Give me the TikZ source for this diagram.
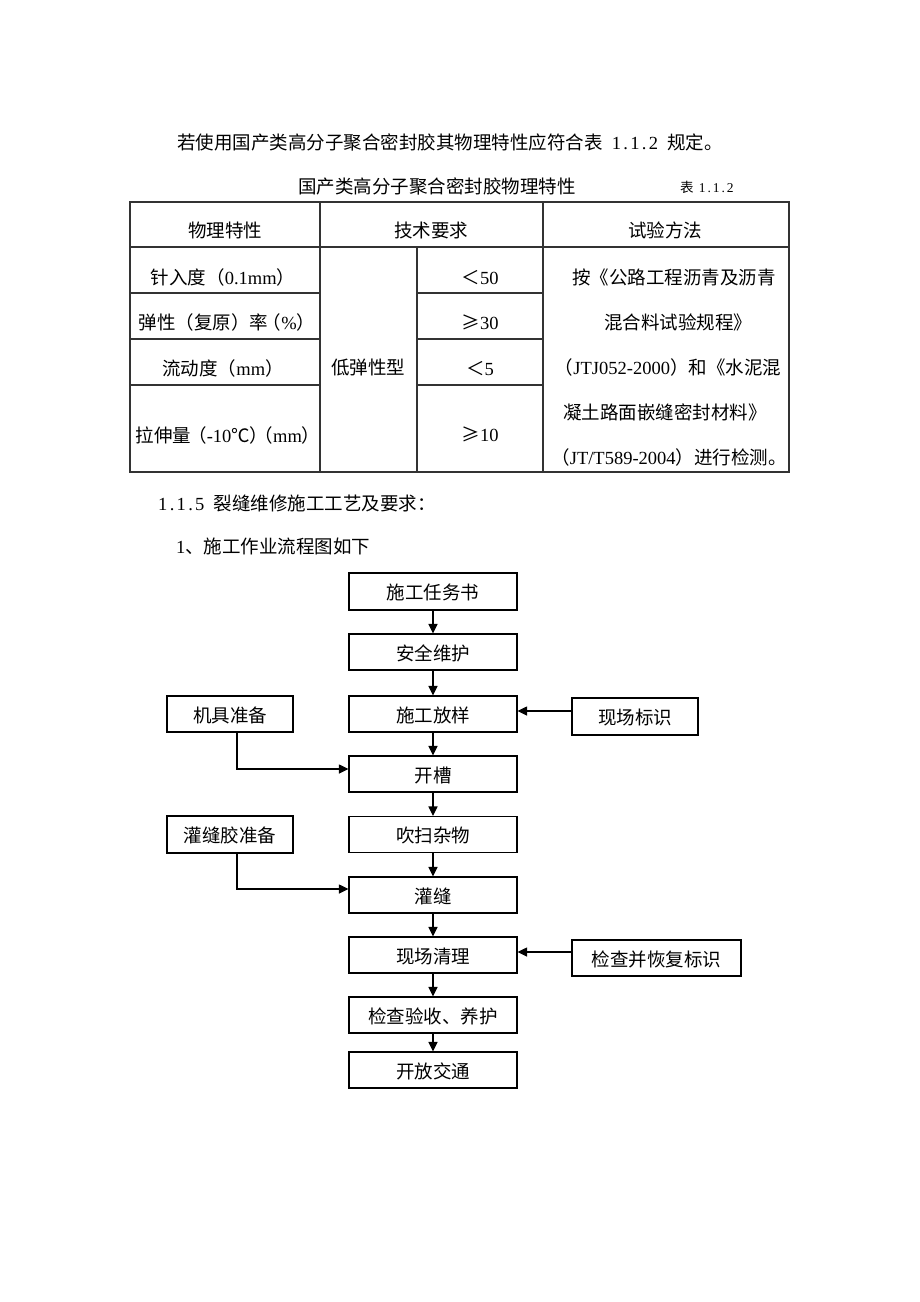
\documentclass[tikz,border=0pt]{standalone}
\usepackage{fontspec}
\newfontfamily\cj{Noto Sans CJK SC}
\newfontfamily\ser{Liberation Serif}
\newcommand{\sr}[1]{{\ser\fontsize{18.5}{20}\selectfont #1}}
\newcommand{\hc}[1]{\makebox[9.25pt]{\ser\fontsize{18.5}{20}\selectfont #1}}
\usetikzlibrary{arrows.meta}
\tikzset{
  every node/.style={font=\cj\fontsize{18.5}{20}\selectfont, inner sep=0pt, text height=16pt, text depth=2pt},
  box/.style={draw, line width=1.1pt, minimum width=168pt, minimum height=36pt, text height=17pt, text depth=1pt},
  sbox/.style={draw, line width=1.1pt, minimum width=126pt, minimum height=36pt, text height=17pt, text depth=1pt},
  arr/.style={line width=1.1pt, -{Triangle[length=9.5pt,width=9pt]}},
  tline/.style={line width=1.2pt, black!80},
}
\begin{document}
\begin{tikzpicture}[x=1pt,y=-1pt]
\fill[white] (0,0) rectangle (920,1302);
\useasboundingbox (0,0) rectangle (920,1302);

% heading text
\node[anchor=west] (p1) at (177,142) {若使用国产类高分子聚合密封胶其物理特性应符合表\hc{}\hc{1}\hc{.}\hc{1}\hc{.}\hc{2}\hc{}规定。};
\node (cap) at (437,186) {国产类高分子聚合密封胶物理特性};
\node[anchor=west, font=\cj\fontsize{13.5}{15}\selectfont, text height=12pt, text depth=1pt] (capn) at (680,187) {表\makebox[5pt]{}{\ser\fontsize{13.5}{15}\selectfont\makebox[7pt]{1}\makebox[7pt]{.}\makebox[7pt]{1}\makebox[7pt]{.}\makebox[7pt]{2}}};

% table lines
\draw[tline] (130,202) rectangle (789,472);
\draw[tline] (130,247) -- (789,247);
\draw[tline] (320,202) -- (320,472);
\draw[tline] (543,202) -- (543,472);
\draw[tline] (417,247) -- (417,472);
\foreach \yy in {293,339,385}{
  \draw[tline] (130,\yy) -- (320,\yy);
  \draw[tline] (417,\yy) -- (543,\yy);
}

% table texts
\node (h1) at (225,230) {物理特性};
\node (h2) at (431,230) {技术要求};
\node (h3) at (665,230) {试验方法};
\node (r1) at (223,277) {针入度（\sr{0.1mm}）};
\node (r2) at (227,322) {弹性（复原）率\hspace{-0.3em}（\sr{\%}）};
\node (r3) at (223,368) {流动度（\sr{mm}）};
\node (r4) at (228,435) {拉伸量\hspace{-0.15em}（\sr{-10}℃）\hspace{-0.75em}（\sr{mm}）};
\node (typ) at (368,367) {低弹性型};
\node (v1) at (480,277) {＜\sr{50}};
\node (v2) at (480,322) {≥\sr{30}};
\node (v3) at (480,368) {＜\sr{5}};
\node (v4) at (480,434) {≥\sr{10}};
\node (m1) at (674,277) {按《公路工程沥青及沥青};
\node (m2) at (678,322) {混合料试验规程》};
\node (m3) at (668,367) {（\sr{JTJ052-2000}）和《水泥混};
\node (m4) at (665,412) {凝土路面嵌缝密封材料》};
\node (m5) at (669,457) {（\sr{JT/T589-2004}）进行检测。};

% section texts
\node[anchor=west] (sec) at (158,503) {\hc{1}\hc{.}\hc{1}\hc{.}\hc{5}\hc{}裂缝维修施工工艺及要求：};
\node[anchor=west] (sub) at (176,546) {\hc{1}、施工作业流程图如下};

% flowchart main column
\node[box, minimum height=37pt] (b1) at (433,591.5) {施工任务书};
\node[box] (b2) at (433,652) {安全维护};
\node[box] (b3) at (433,714) {施工放样};
\node[box] (b4) at (433,774) {开槽};
\node[box] (b5) at (433,834.5) {吹扫杂物};
\node[box] (b6) at (433,895) {灌缝};
\node[box] (b7) at (433,955) {现场清理};
\node[box] (b8) at (433,1015) {检查验收、养护};
\node[box] (b9) at (433,1070) {开放交通};

% side boxes
\node[sbox] (s1) at (230,714) {机具准备};
\node[sbox, minimum height=37pt] (s2) at (635,716.5) {现场标识};
\node[sbox, minimum height=37pt] (s3) at (230,834.5) {灌缝胶准备};
\node[sbox, minimum width=169pt] (s4) at (656.5,958) {检查并恢复标识};

% connectors
\draw[arr] (b1) -- (b2);
\draw[arr] (b2) -- (b3);
\draw[arr] (b3) -- (b4);
\draw[arr] (b4) -- (b5);
\draw[arr] (b5) -- (b6);
\draw[arr] (b6) -- (b7);
\draw[arr] (b7) -- (b8);
\draw[arr] (b8) -- (b9);
\draw[arr] ([xshift=7pt]s1.south) |- ([yshift=5pt]b4.west);
\draw[arr] ([xshift=7pt]s3.south) |- ([yshift=6pt]b6.west);
\draw[arr] ([yshift=5.5pt]s2.west) -- ([yshift=5.5pt]s2.west -| b3.east);
\draw[arr] ([yshift=6pt]s4.west) -- ([yshift=6pt]s4.west -| b7.east);
\end{tikzpicture}
\end{document}
